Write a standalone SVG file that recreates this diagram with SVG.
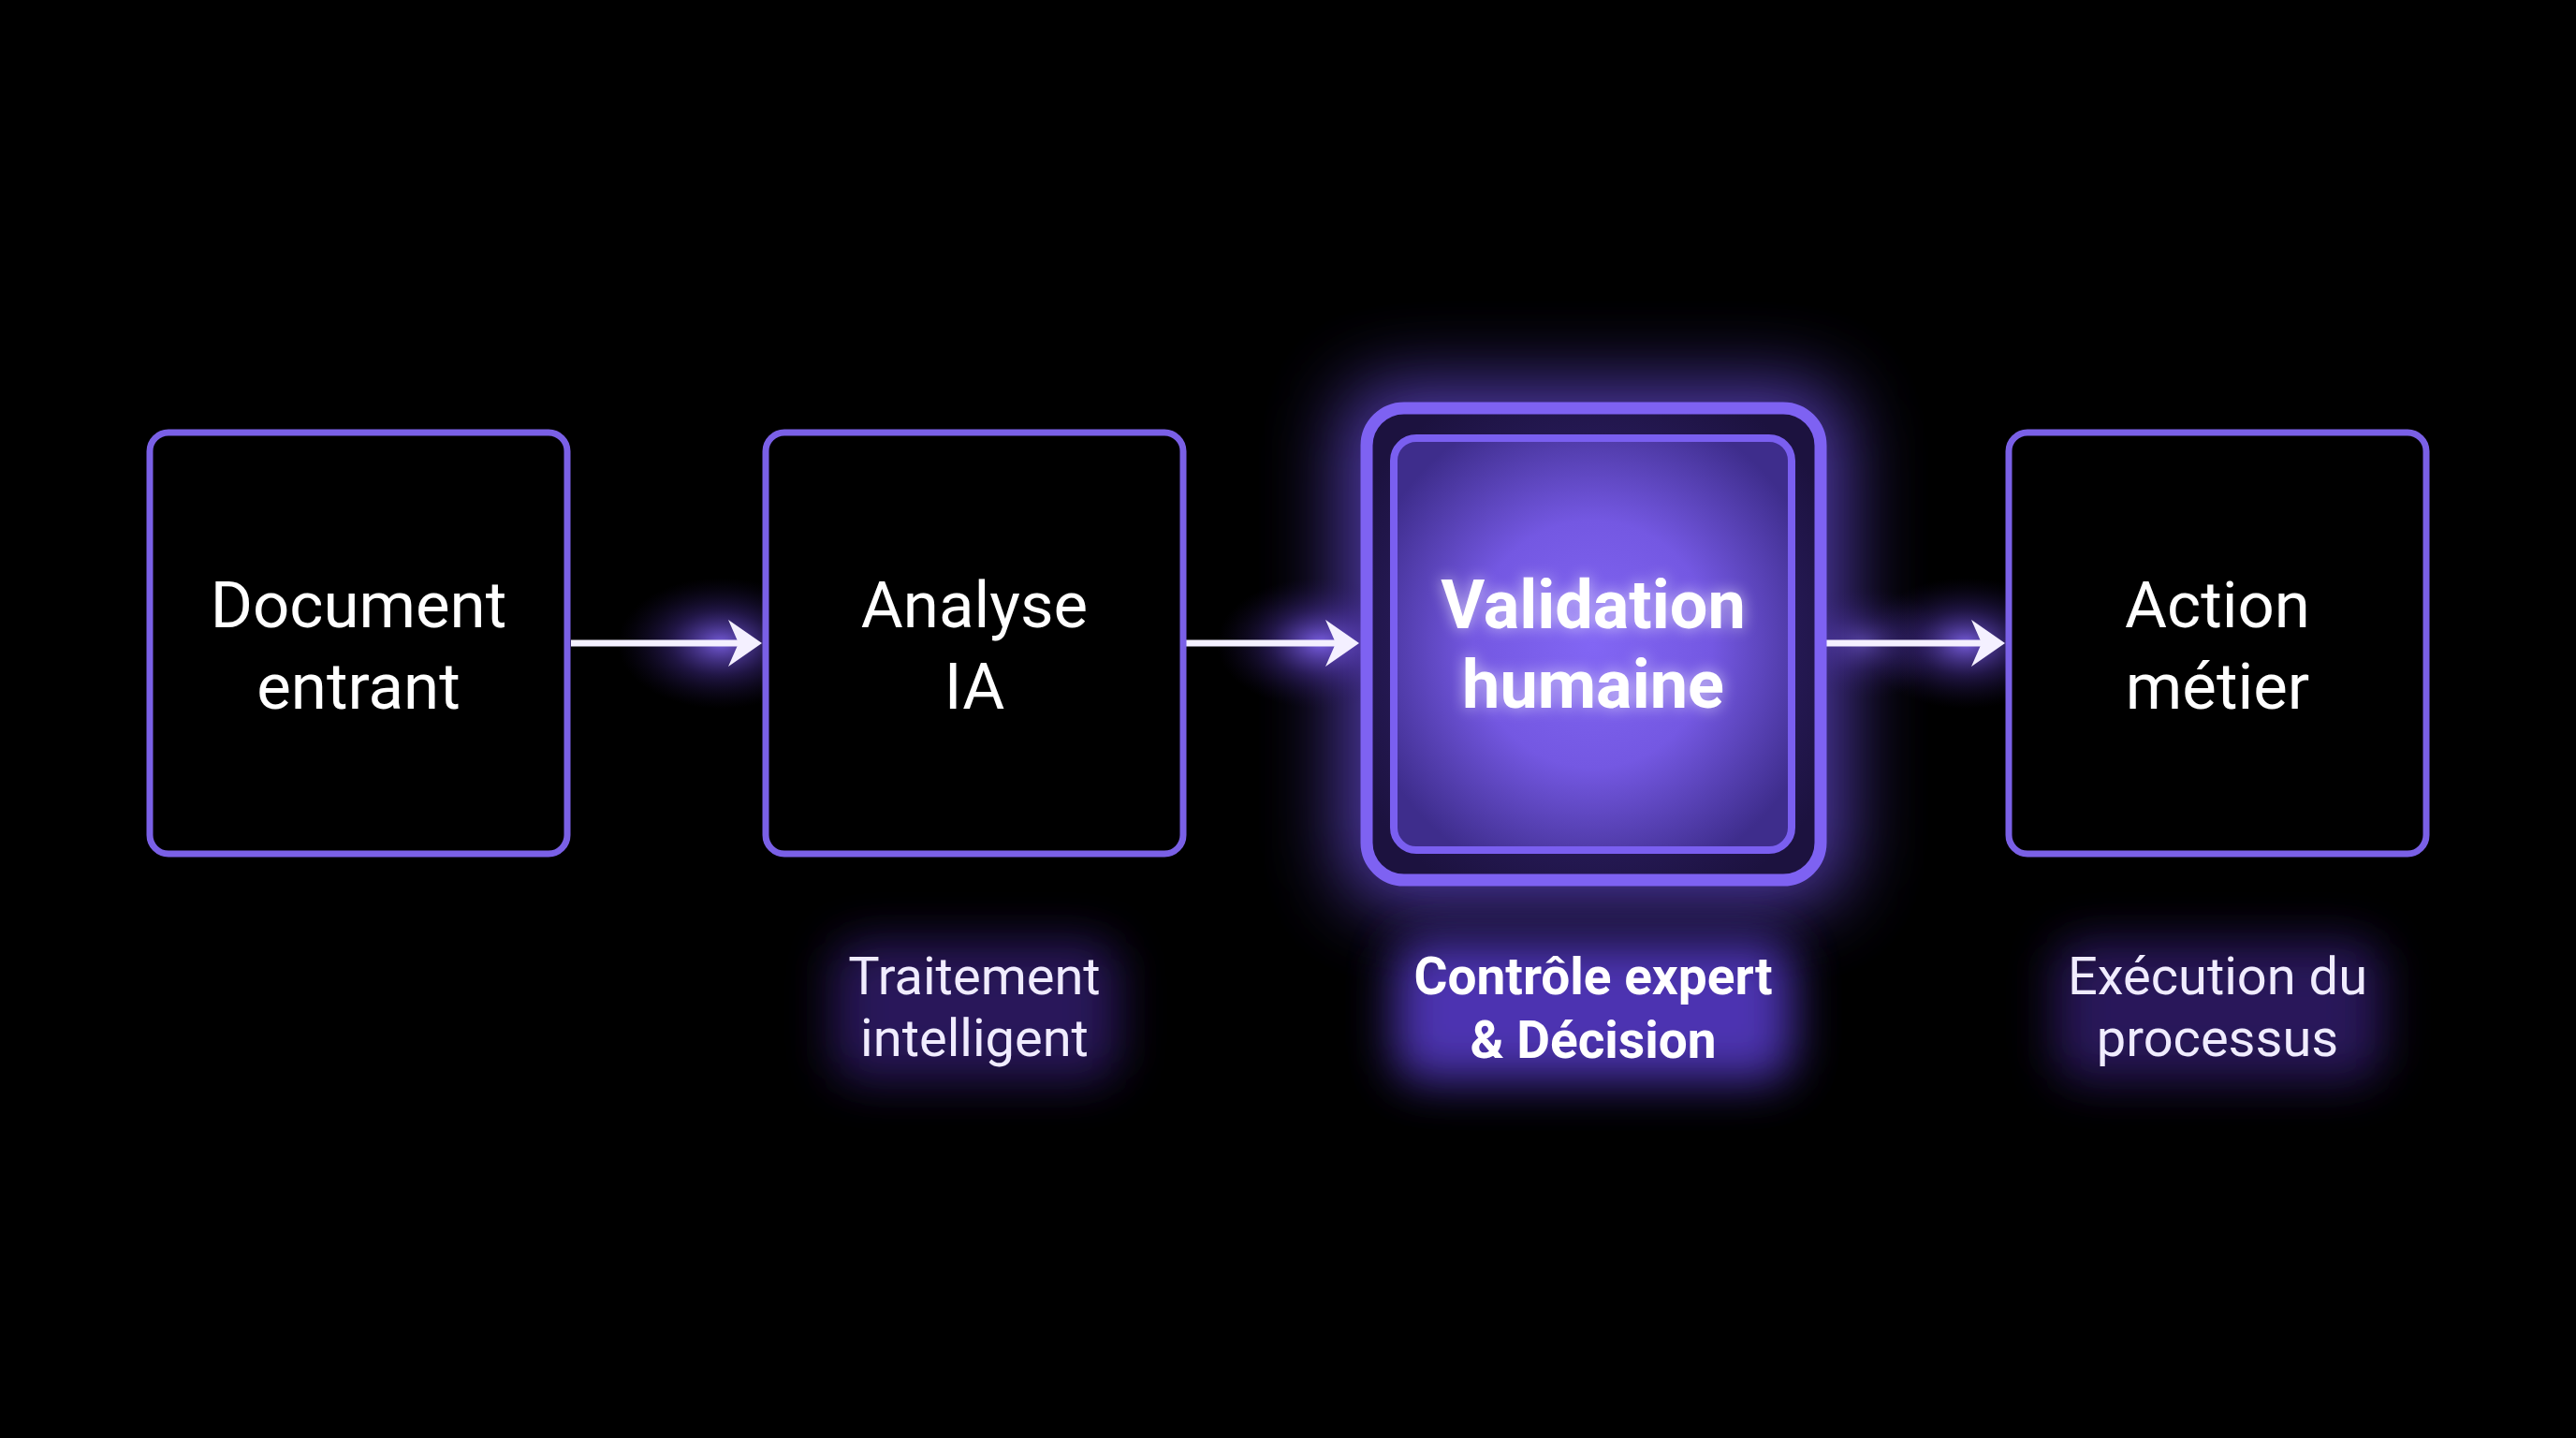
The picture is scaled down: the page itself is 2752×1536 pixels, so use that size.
<svg xmlns="http://www.w3.org/2000/svg" width="2752" height="1536" viewBox="0 0 2752 1536">
  <defs>
    <style>
      .box { fill: #000; stroke: #7a60e6; stroke-width: 7; }
      .title { font-family: Roboto, "Liberation Sans", sans-serif; font-weight: 400; font-size: 69px; fill: #ffffff; text-anchor: middle; }
      .title-b { font-family: Roboto, "Liberation Sans", sans-serif; font-weight: 700; font-size: 72px; fill: #ffffff; text-anchor: middle; }
      .sub { font-family: Roboto, "Liberation Sans", sans-serif; font-weight: 400; font-size: 56px; fill: #f0ecff; text-anchor: middle; }
      .sub-b { font-family: Roboto, "Liberation Sans", sans-serif; font-weight: 700; font-size: 55px; fill: #ffffff; text-anchor: middle; }
      .line { stroke: #f4f0ff; stroke-width: 7; fill: none; }
      .head { fill: #f4f0ff; }
    </style>
    <filter id="blur40" x="-50%" y="-50%" width="200%" height="200%">
      <feGaussianBlur stdDeviation="42"/>
    </filter>
    <filter id="blur25" x="-50%" y="-50%" width="200%" height="200%">
      <feGaussianBlur stdDeviation="25"/>
    </filter>
    <filter id="blur8" x="-50%" y="-50%" width="200%" height="200%">
      <feGaussianBlur stdDeviation="8"/>
    </filter>
    <radialGradient id="innerFill" cx="50%" cy="50%" r="60%">
      <stop offset="0%" stop-color="#8266f4"/>
      <stop offset="50%" stop-color="#7458e2"/>
      <stop offset="100%" stop-color="#3e2d8c"/>
    </radialGradient>
    <radialGradient id="ringFill" cx="50%" cy="50%" r="60%">
      <stop offset="0%" stop-color="#3c2a88"/>
      <stop offset="100%" stop-color="#1c123f"/>
    </radialGradient>
    <radialGradient id="arrowGlow" cx="50%" cy="50%" r="50%">
      <stop offset="0%" stop-color="#8a6cff" stop-opacity="0.85"/>
      <stop offset="50%" stop-color="#5a3cc0" stop-opacity="0.35"/>
      <stop offset="100%" stop-color="#2a1860" stop-opacity="0"/>
    </radialGradient>
  </defs>

  <rect x="0" y="0" width="2752" height="1536" fill="#000000"/>

  <g id="glows">
    <rect x="1435" y="412" width="535" height="552" rx="50" fill="#6a4ee0" opacity="0.8" filter="url(#blur40)"/>
    <ellipse cx="770" cy="687" rx="110" ry="70" fill="url(#arrowGlow)"/>
    <ellipse cx="1410" cy="687" rx="110" ry="70" fill="url(#arrowGlow)"/>
    <ellipse cx="2100" cy="687" rx="110" ry="70" fill="url(#arrowGlow)"/>
    <ellipse cx="1990" cy="687" rx="90" ry="60" fill="url(#arrowGlow)" opacity="0.6"/>
    <rect x="890" y="1005" width="305" height="150" rx="30" fill="#3a2480" opacity="0.7" filter="url(#blur25)"/>
    <rect x="1490" y="1005" width="425" height="150" rx="30" fill="#5a3ed0" opacity="0.85" filter="url(#blur25)"/>
    <rect x="2195" y="1005" width="350" height="150" rx="30" fill="#3a2480" opacity="0.7" filter="url(#blur25)"/>
  </g>

  <g id="connectors">
    <g id="arrow1">
      <line class="line" x1="610" y1="687" x2="800" y2="687"/>
      <polygon class="head" points="814,687 778,662 789,687 778,712"/>
    </g>
    <g id="arrow2">
      <line class="line" x1="1266" y1="687" x2="1438" y2="687"/>
      <polygon class="head" points="1452,687 1416,662 1427,687 1416,712"/>
    </g>
    <g id="arrow3">
      <line class="line" x1="1951" y1="687" x2="2128" y2="687"/>
      <polygon class="head" points="2142,687 2106,662 2117,687 2106,712"/>
    </g>
  </g>

  <g id="node-document">
    <rect class="box" x="160" y="462" width="446" height="450" rx="20"/>
    <text class="title" x="383" y="670">Document</text>
    <text class="title" x="383" y="757">entrant</text>
  </g>

  <g id="node-analyse">
    <rect class="box" x="818" y="462" width="446" height="450" rx="20"/>
    <text class="title" x="1041" y="670">Analyse</text>
    <text class="title" x="1041" y="757">IA</text>
    <text class="sub" x="1041" y="1062">Traitement</text>
    <text class="sub" x="1041" y="1128">intelligent</text>
  </g>

  <g id="node-validation">
    <rect x="1460" y="436" width="485" height="504" rx="40" fill="url(#ringFill)" stroke="#7e62f2" stroke-width="13"/>
    <rect x="1489" y="468" width="425" height="440" rx="24" fill="url(#innerFill)" stroke="#7a5ff0" stroke-width="8"/>
    <g filter="url(#blur8)" opacity="0.6">
      <text class="title-b" x="1702" y="671" fill="#b9a6ff">Validation</text>
      <text class="title-b" x="1702" y="756" fill="#b9a6ff">humaine</text>
    </g>
    <text class="title-b" x="1702" y="671">Validation</text>
    <text class="title-b" x="1702" y="756">humaine</text>
    <text class="sub-b" x="1702" y="1062">Contrôle expert</text>
    <text class="sub-b" x="1702" y="1130">&amp; Décision</text>
  </g>

  <g id="node-action">
    <rect class="box" x="2146" y="462" width="446" height="450" rx="20"/>
    <text class="title" x="2369" y="670">Action</text>
    <text class="title" x="2369" y="757">métier</text>
    <text class="sub" x="2369" y="1062">Exécution du</text>
    <text class="sub" x="2369" y="1128">processus</text>
  </g>
</svg>
